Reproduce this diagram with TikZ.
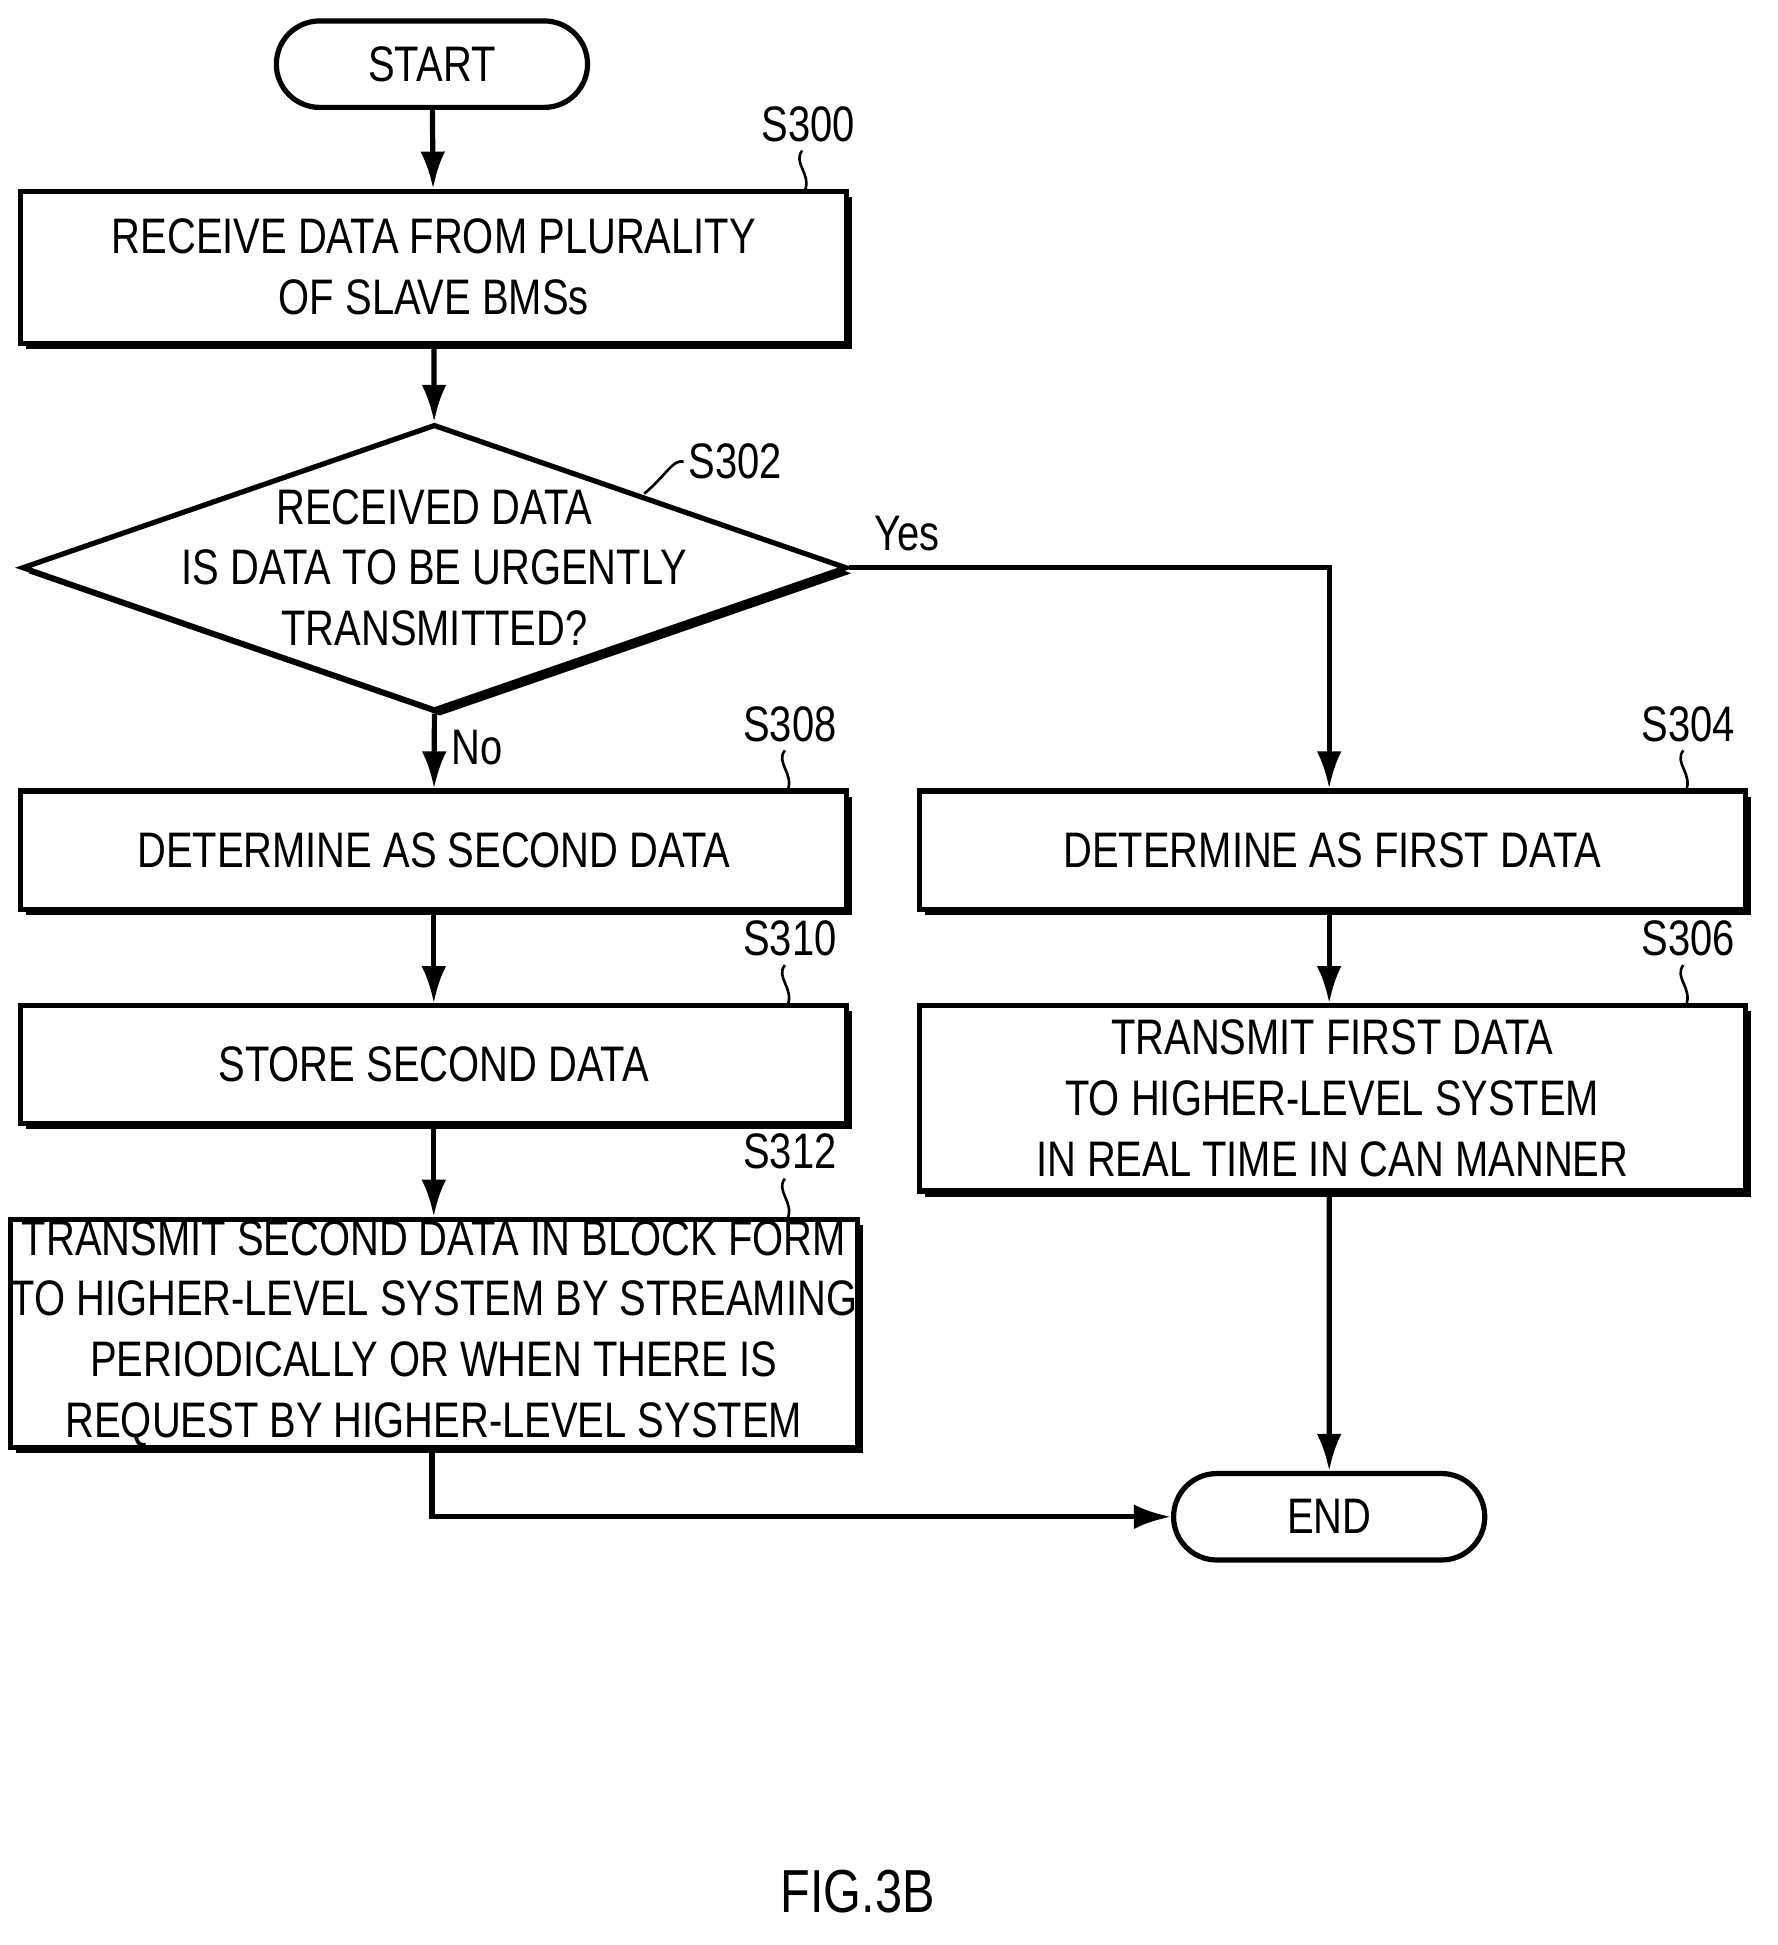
\documentclass[tikz,border=0pt]{standalone}
\usepackage{fontspec}
\setmainfont{Liberation Sans}[FakeStretch=0.8]
\usetikzlibrary{shapes.geometric,shapes.misc,shadows,arrows.meta}
\tikzset{
  proc/.style={draw, line width=1.2pt, fill=white, align=center, inner sep=0pt,
    drop shadow={shadow xshift=0.045cm, shadow yshift=-0.045cm, fill=black, opacity=1}},
  term/.style={draw, line width=1.2pt, rounded rectangle, minimum width=2.52cm, minimum height=0.70cm, inner sep=0pt},
  tag/.style={inner sep=1pt},
  flow/.style={line width=1.2pt, -{Latex[length=3mm,width=2mm]}}
}
\newcommand{\tick}[3]{\draw[line width=0.6pt] (#1,#2) .. controls (#1-8,#2+10) and (#1+8,#3-14) .. (#1+2,#3);}
\begin{document}
\begin{tikzpicture}[x=0.01cm,y=-0.01cm,font=\fontsize{11.5}{14}\selectfont]
\useasboundingbox (0,0) rectangle (1440,1576);

\node[term] (start) at (350,52) {START};
\node[proc, minimum width=6.69cm, minimum height=1.23cm] (s300) at (351.5,216.5) {RECEIVE DATA FROM PLURALITY\\OF SLAVE BMSs};
\node[proc, diamond, minimum width=6.68cm, minimum height=2.32cm] (s302) at (352,460) {};
\node[align=center] (q) at (352,460) {RECEIVED DATA\\IS DATA TO BE URGENTLY\\TRANSMITTED?};
\node[proc, minimum width=6.69cm, minimum height=0.96cm] (s308) at (351.5,689) {DETERMINE AS SECOND DATA};
\node[proc, minimum width=6.69cm, minimum height=0.96cm] (s304) at (1079.5,689) {DETERMINE AS FIRST DATA};
\node[proc, minimum width=6.69cm, minimum height=0.95cm] (s310) at (351.5,862.5) {STORE SECOND DATA};
\node[proc, minimum width=6.69cm, minimum height=1.50cm] (s306) at (1079.5,890) {TRANSMIT FIRST DATA\\TO HIGHER-LEVEL SYSTEM\\IN REAL TIME IN CAN MANNER};
\node[proc, minimum width=6.69cm, minimum height=1.85cm] (s312) at (351.5,1080.5) {TRANSMIT SECOND DATA IN BLOCK FORM\\TO HIGHER-LEVEL SYSTEM BY STREAMING\\PERIODICALLY OR WHEN THERE IS\\REQUEST BY HIGHER-LEVEL SYSTEM};
\node[term] (end) at (1077,1229) {END};

% step labels
\node[tag] (l300) at (655,101) {S300};
\node[tag] (l302) at (596,374) {S302};
\node[tag] (l308) at (640,587) {S308};
\node[tag] (l304) at (1368,587) {S304};
\node[tag] (l310) at (640,760) {S310};
\node[tag] (l306) at (1368,760) {S306};
\node[tag] (l312) at (640,933) {S312};
\tick{650}{122}{155}
\tick{636}{608}{641}
\tick{1364}{608}{641}
\tick{636}{782}{815}
\tick{1364}{782}{815}
\tick{636}{955}{988}
\draw[line width=0.6pt] (l302.west) .. controls (545,372) and (540,385) .. (522,400);

\draw[flow] (start) -- (s300);
\draw[flow] (s300) -- (s302);
\draw[flow] (s302.south) -- node[right, pos=0.45] {No} (s308);
\draw[flow] (s302.east) -- node[above, pos=0.12] {Yes} (1077,460) -- (s304.north -| 1077,0);
\draw[flow] (s308) -- (s310);
\draw[flow] (s310) -- (s312);
\draw[flow] (s304.south -| 1077,0) -- (s306.north -| 1077,0);
\draw[flow] (s306.south -| 1077,0) -- (end);
\draw[flow] (s312.south -| 350,0) |- (end);

\node (fig) at (695,1533) {\fontsize{14}{16}\selectfont FIG.3B};
\end{tikzpicture}
\end{document}
